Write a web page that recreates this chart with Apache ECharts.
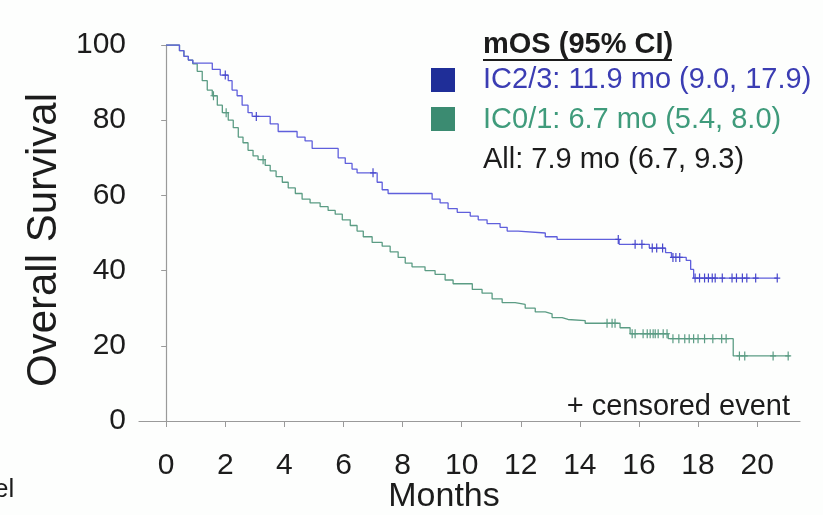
<!DOCTYPE html>
<html>
<head>
<meta charset="utf-8">
<script src="https://cdn.jsdelivr.net/npm/echarts@6/dist/echarts.min.js"></script>
<style>
  html, body { margin: 0; padding: 0; background: #fdfefd; }
  #chart { width: 823px; height: 515px; }
</style>
</head>
<body>
<div id="chart"></div>
<script>
// Kaplan-Meier overall survival by PD-L1 IC status (months, % surviving)

// IC2/3 group: event times and survival level after each event
const ic23Times = [0.45, 0.6, 0.75, 0.9, 1.56, 1.83, 2.1, 2.23, 2.4, 2.57, 2.77, 2.91,
  3.52, 3.79, 4.43, 4.7, 4.94, 5.82, 6.06, 6.29, 6.46, 7.14, 7.31, 7.51,
  9.0, 9.27, 9.54, 9.85, 10.29, 10.56, 10.86, 11.3, 11.54, 11.91, 12.83, 13.23,
  15.33, 16.35, 16.9, 17.1, 17.6, 17.75, 17.85];
const ic23Surv = [98.5, 97, 96, 95.2, 93.5, 92, 90.5, 88, 86.5, 84, 82, 81,
  79, 77, 75.5, 74.5, 72.5, 70, 68.5, 67, 66, 63.5, 61.5, 60.5,
  59, 58, 56.5, 55.5, 54.5, 53.5, 52.5, 51.5, 50.5, 50, 49, 48.3,
  47, 46, 44.8, 43.5, 42.7, 40.3, 38];
const ic23End = 20.68;
const ic23Censored = [2.0, 3.05, 7.0, 15.3, 15.87, 16.1, 16.45, 16.6, 16.8, 17.15, 17.25, 17.38,
  17.9, 18.05, 18.22, 18.35, 18.48, 18.58, 18.82, 19.15, 19.3, 19.5, 19.65, 19.95, 20.68];

// IC0/1 group
const ic01Times = [0.45, 0.6, 0.75, 0.9, 1.05, 1.22, 1.39, 1.56, 1.73, 1.9, 2.1, 2.27,
  2.44, 2.6, 2.77, 2.94, 3.11, 3.35, 3.52, 3.72, 3.93, 4.13, 4.37, 4.6,
  4.87, 5.21, 5.48, 5.72, 5.96, 6.23, 6.46, 6.67, 6.97, 7.31, 7.58, 7.85,
  8.09, 8.32, 8.76, 9.1, 9.44, 9.71, 10.36, 10.69, 11.03, 11.37, 11.81, 12.15,
  12.49, 12.83, 13.06, 13.4, 13.6, 14.18, 15.36, 15.7, 16.99, 19.19];
const ic01Surv = [98.5, 97, 96, 95, 93, 90.5, 88, 86.5, 84, 82, 80, 78,
  75.5, 74, 72, 70.5, 69.5, 68, 66.5, 65, 63.5, 62, 60.5, 59,
  58, 57, 56, 55, 53.5, 52, 50.5, 49, 47.5, 46.5, 45, 43.5,
  42, 41, 40, 39, 37.5, 36.5, 35, 34, 32.5, 31.5, 31, 30,
  29, 28.5, 27.5, 27, 26.7, 26, 24.8, 23.2, 21.9, 17.3];
const ic01End = 21.1;
const ic01Censored = [1.6, 2.03, 3.28, 14.92, 15.09, 15.19, 15.77, 15.87, 16.14, 16.28, 16.38,
  16.48, 16.55, 16.65, 16.82, 16.95, 17.15, 17.35, 17.55, 17.7, 17.85, 18.0, 18.22,
  18.5, 18.8, 18.95, 19.4, 19.58, 20.54, 21.05];

// Axis ticks
const monthTicks = [0, 2, 4, 6, 8, 10, 12, 14, 16, 18, 20];
const survivalTicks = [0, 20, 40, 60, 80, 100];

// Legend texts
const legendTitle = 'mOS (95% CI)';
const ic23Label = 'IC2/3: 11.9 mo (9.0, 17.9)';
const ic01Label = 'IC0/1: 6.7 mo (5.4, 8.0)';
const allLabel = 'All: 7.9 mo (6.7, 9.3)';
const censorNote = '+ censored event';

const BLUE_LINE = '#5f5fdc';
const GREEN_LINE = '#5b9c84';

function stepData(times, surv, end) {
  const pts = [[0, 100]];
  times.forEach((t, i) => pts.push([t, surv[i]]));
  pts.push([end, surv[surv.length - 1]]);
  return pts;
}

function levelAt(times, surv, t) {
  let s = 100;
  for (let i = 0; i < times.length; i++) {
    if (times[i] <= t) s = surv[i]; else break;
  }
  return s;
}

function censorData(times, surv, cens) {
  return cens.map(t => [t, levelAt(times, surv, t)]);
}

const plusPath = 'path://M2.4,0H3.6V3.9H6V5.1H3.6V9H2.4V5.1H0V3.9H2.4Z';
const FONT = '"Liberation Sans", Arial, sans-serif';

const chart = echarts.init(document.getElementById('chart'), null, { renderer: 'canvas' });

chart.setOption({
  backgroundColor: '#fdfefd',
  animation: false,
  grid: { left: 139, right: 23, top: 45, bottom: 94 },
  xAxis: {
    type: 'value',
    min: -0.92,
    max: 21.45,
    axisLine: { lineStyle: { color: '#9a9a9a', width: 1.2 } },
    axisTick: { customValues: monthTicks, length: 6, lineStyle: { color: '#9a9a9a' } },
    axisLabel: {
      customValues: monthTicks,
      fontFamily: FONT, fontSize: 30, color: '#1c1c1c', margin: 30
    },
    splitLine: { show: false }
  },
  yAxis: {
    type: 'value',
    min: 0,
    max: 100,
    interval: 20,
    axisLine: { show: true, lineStyle: { color: '#9a9a9a', width: 1.2 } },
    axisTick: { show: true, length: 5, lineStyle: { color: '#9a9a9a' } },
    axisLabel: {
      fontFamily: FONT, fontSize: 30, color: '#1c1c1c', margin: 13,
      formatter: v => survivalTicks.includes(v) ? String(v) : ''
    },
    splitLine: { show: false }
  },
  series: [
    {
      name: 'IC0/1', type: 'line', step: 'end', showSymbol: false,
      data: stepData(ic01Times, ic01Surv, ic01End),
      lineStyle: { color: GREEN_LINE, width: 1.3 }, z: 2
    },
    {
      name: 'IC2/3', type: 'line', step: 'end', showSymbol: false,
      data: stepData(ic23Times, ic23Surv, ic23End),
      lineStyle: { color: BLUE_LINE, width: 1.3 }, z: 3
    },
    {
      name: 'IC0/1 censored', type: 'scatter', symbol: plusPath, symbolSize: [6, 9],
      data: censorData(ic01Times, ic01Surv, ic01Censored),
      itemStyle: { color: GREEN_LINE, opacity: 1 }, z: 4
    },
    {
      name: 'IC2/3 censored', type: 'scatter', symbol: plusPath, symbolSize: [6, 9],
      data: censorData(ic23Times, ic23Surv, ic23Censored),
      itemStyle: { color: '#4848cc', opacity: 1 }, z: 5
    }
  ],
  graphic: [
    // axis titles
    {
      type: 'text', x: 44, y: 240, rotation: Math.PI / 2,
      style: { text: 'Overall Survival', font: '42px ' + FONT, fill: '#1c1c1c',
               align: 'center', verticalAlign: 'middle' }
    },
    {
      type: 'text', x: 444, y: 497,
      style: { text: 'Months', font: '34px ' + FONT, fill: '#1c1c1c',
               align: 'center', verticalAlign: 'middle' }
    },
    {
      type: 'text', x: -6, y: 490,
      style: { text: 'el', font: '26px ' + FONT, fill: '#1c1c1c',
               align: 'left', verticalAlign: 'middle' }
    },
    // legend block
    {
      type: 'text', x: 483, y: 45,
      style: { text: legendTitle, font: 'bold 29px ' + FONT, fill: '#1c1c1c',
               align: 'left', verticalAlign: 'middle' }
    },
    {
      type: 'line', shape: { x1: 483, y1: 60, x2: 672, y2: 60 },
      style: { stroke: '#1c1c1c', lineWidth: 2 }
    },
    {
      type: 'rect', shape: { x: 431, y: 68, width: 24, height: 24 },
      style: { fill: '#1f2e98' }
    },
    {
      type: 'text', x: 483, y: 80,
      style: { text: ic23Label, font: '29px ' + FONT, fill: '#3b3db3',
               align: 'left', verticalAlign: 'middle' }
    },
    {
      type: 'rect', shape: { x: 431, y: 107, width: 24, height: 24 },
      style: { fill: '#3b8b71' }
    },
    {
      type: 'text', x: 483, y: 120,
      style: { text: ic01Label, font: '29px ' + FONT, fill: '#3f9b7b',
               align: 'left', verticalAlign: 'middle' }
    },
    {
      type: 'text', x: 483, y: 160,
      style: { text: allLabel, font: '29px ' + FONT, fill: '#1c1c1c',
               align: 'left', verticalAlign: 'middle' }
    },
    {
      type: 'text', x: 790, y: 407,
      style: { text: censorNote, font: '29px ' + FONT, fill: '#1c1c1c',
               align: 'right', verticalAlign: 'middle' }
    }
  ]
});
</script>
</body>
</html>
